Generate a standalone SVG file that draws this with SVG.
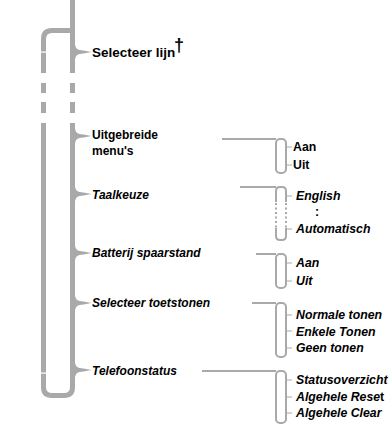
<svg xmlns="http://www.w3.org/2000/svg" width="392" height="426" viewBox="0 0 392 426">
<defs>
<style>
.thick{fill:none;stroke:#a9a9a9;stroke-width:5}
.thin{fill:none;stroke:#a9a9a9;stroke-width:2}
.tick{fill:none;stroke:#a9a9a9;stroke-width:1.2}
.dot{fill:none;stroke:#a9a9a9;stroke-width:2;stroke-dasharray:2 2.5}
.brace{fill:#a9a9a9}
text{font-family:"Liberation Sans",Arial,sans-serif;font-weight:bold;fill:#000}
.m{font-size:12px}
.i{font-style:italic}
.s{font-size:12.3px}
</style>
<path id="br" d="M2,-11 C2.5,-3 5,-1.8 11,-1.5 L19,0 L11,1.5 C5,1.8 2.5,3 2,11 L-2,11 L-2,-11 Z"/>
</defs>
<rect width="392" height="426" fill="#fff"/>
<g id="connectors">
<path class="thick" d="M72.5,0 L72.5,73"/>
<path class="thick" d="M72.5,83 L72.5,93 M72.5,102 L72.5,113"/>
<path class="thick" d="M72.5,123 L72.5,387 Q72.5,395.5 64,395.5 L52,395.5 Q43.5,395.5 43.5,387 L43.5,123"/>
<path class="thick" d="M43.5,83 L43.5,93 M43.5,102 L43.5,113"/>
<path class="thick" d="M72.5,30.5 L52,30.5 Q43.5,30.5 43.5,39 L43.5,73"/>
<rect x="40" y="51.5" width="7" height="1.2" fill="#fff"/>
<rect x="40" y="372.5" width="7" height="1.2" fill="#fff"/>
<use href="#br" class="brace" x="72.5" y="52"/>
<use href="#br" class="brace" x="72.5" y="136"/>
<use href="#br" class="brace" x="72.5" y="194"/>
<use href="#br" class="brace" x="72.5" y="253"/>
<use href="#br" class="brace" x="72.5" y="303"/>
<use href="#br" class="brace" x="72.5" y="370"/>
<path class="thin" d="M222,139 L276,139"/>
<rect class="thin" x="276" y="139" width="10" height="34" rx="4"/>
<path class="tick" d="M286,147 L292,147 M286,165 L292,165"/>
<path class="thin" d="M240,187 L276,187"/>
<path class="thin" d="M276,202 L276,191 Q276,187 280,187 L282,187 Q286,187 286,191 L286,202"/>
<path class="dot" d="M276,203 L276,228 M286,203 L286,228"/>
<path class="thin" d="M276,228 L276,236 Q276,240 280,240 L282,240 Q286,240 286,236 L286,228"/>
<path class="tick" d="M286,196 L292,196 M286,229 L292,229"/>
<path class="thin" d="M256,254 L276,254"/>
<rect class="thin" x="276" y="254" width="10" height="34" rx="4"/>
<path class="tick" d="M286,263 L292,263 M286,281 L292,281"/>
<path class="thin" d="M252,303 L276,303"/>
<rect class="thin" x="276" y="303" width="10" height="54" rx="4"/>
<path class="tick" d="M286,315 L292,315 M286,331 L292,331 M286,348 L292,348"/>
<path class="thin" d="M202,371 L276,371"/>
<rect class="thin" x="276" y="371" width="10" height="52" rx="4"/>
<path class="tick" d="M286,380 L292,380 M286,397 L292,397 M286,413 L292,413"/>
</g>
<g id="n-selecteer-lijn">
<text x="92" y="57" style="font-size:13.5px">Selecteer lijn</text>
<text x="174" y="51" style="font-size:18px">†</text>
</g>
<g id="n-uitgebreide">
<text class="m" x="92" y="139">Uitgebreide</text>
<text class="m" x="92" y="155">menu's</text>
</g>
<g id="n-taalkeuze"><text class="m i" x="92" y="199">Taalkeuze</text></g>
<g id="n-batterij"><text class="m i" x="92" y="257">Batterij spaarstand</text></g>
<g id="n-toetstonen"><text class="m i" x="92" y="307">Selecteer toetstonen</text></g>
<g id="n-telefoonstatus"><text class="m i" x="92" y="375">Telefoonstatus</text></g>
<g id="n-menu-opties">
<text class="s" x="293" y="151">Aan</text>
<text class="s" x="293" y="169">Uit</text>
</g>
<g id="n-talen">
<text class="s i" x="296" y="200">English</text>
<text class="s" x="315" y="216">:</text>
<text class="s i" x="296" y="233">Automatisch</text>
</g>
<g id="n-batterij-opties">
<text class="s i" x="296" y="267">Aan</text>
<text class="s i" x="296" y="285">Uit</text>
</g>
<g id="n-tonen">
<text class="s i" x="296" y="319">Normale tonen</text>
<text class="s i" x="296" y="336">Enkele Tonen</text>
<text class="s i" x="296" y="352">Geen tonen</text>
</g>
<g id="n-status">
<text class="s i" x="296" y="384">Statusoverzicht</text>
<text class="s i" x="296" y="401">Algehele Rese<tspan style="font-style:normal">t</tspan></text>
<text class="s i" x="296" y="417">Algehele Clear</text>
</g>
</svg>
